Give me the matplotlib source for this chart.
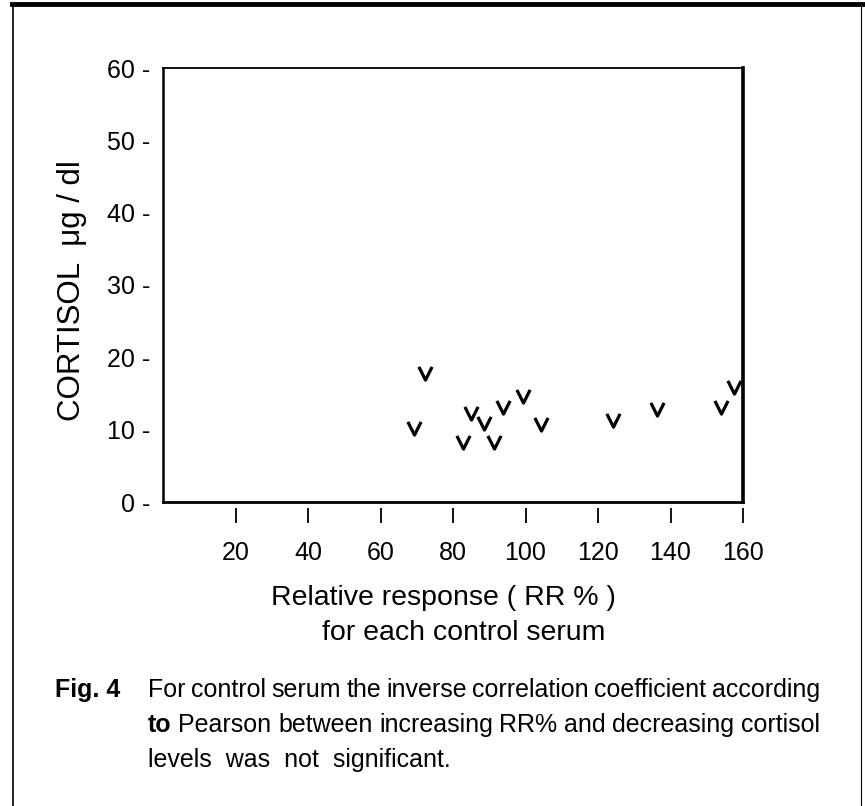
import matplotlib
matplotlib.use("Agg")
import matplotlib.pyplot as plt
from matplotlib.path import Path
from matplotlib.lines import Line2D
from matplotlib import font_manager

# relative response (RR %) and cortisol (ug/dl) for each control serum
rr = [69.2, 72.3, 82.7, 84.9, 88.6, 91.3, 93.7, 99.2, 104.2, 124.1, 136.2, 153.8, 157.5]
cortisol = [10.2, 17.8, 8.3, 12.3, 10.9, 8.3, 13.2, 14.7, 10.8, 11.4, 12.8, 13.1, 15.9]

xticks = [20, 40, 60, 80, 100, 120, 140, 160]
yticks = [0, 10, 20, 30, 40, 50, 60]
ylabels = ["0 -", "10 -", "20 -", "30 -", "40 -", "50 -", "60 -"]

caption = [
    [("For", False), ("control", False), ("serum", False), ("the", False), ("inverse", False),
     ("correlation", False), ("coefficient", False), ("according", False)],
    [("to", True), ("Pearson", False), ("between", False), ("increasing", False), ("RR%", False),
     ("and", False), ("decreasing", False), ("cortisol", False)],
]
last_line = "levels  was  not  significant."

names = {f.name for f in font_manager.fontManager.ttflist}
narrow = "Liberation Sans Narrow" if "Liberation Sans Narrow" in names else "Liberation Sans"
plt.rcParams["font.family"] = [narrow, "DejaVu Sans"]

W, H = 865, 806
fig = plt.figure(figsize=(W / 100, H / 100), dpi=100)

def fx(px):
    return px / W

def fy(py):
    return 1 - py / H

ax = fig.add_axes([fx(163), fy(502), fx(743) - fx(163), fy(68) - fy(502)])

vmark = Path([(-1, 1), (0, -1), (1, 1)], [Path.MOVETO, Path.LINETO, Path.LINETO])
ax.plot(rr, cortisol, linestyle="none", marker=vmark, markersize=9.5,
        markerfacecolor="none", markeredgecolor="black", markeredgewidth=2.3)

ax.set_xlim(0, 160)
ax.set_ylim(0, 60)
ax.set_yticks(yticks)
ax.set_yticklabels(ylabels, fontsize=18)
ax.tick_params(axis="y", length=0, pad=9)
ax.set_xticks([])
for side, lw in [("left", 1.8), ("bottom", 2.0), ("top", 1.3), ("right", 2.6)]:
    ax.spines[side].set_linewidth(lw)

# detached x ticks below the frame
sec = ax.secondary_xaxis(-0.014)
sec.set_xticks(xticks)
sec.set_xticklabels([str(t) for t in xticks], fontsize=18)
sec.spines["bottom"].set_visible(False)
sec.tick_params(axis="x", length=11, width=1.3, pad=13)

fig.text(fx(72), fy(291), "CORTISOL  \u03bcg / dl", rotation=90, fontsize=22.5,
         ha="center", va="center")
fig.text(fx(271), fy(598), "Relative response ( RR % )", fontsize=20.5, ha="left", va="center")
fig.text(fx(322), fy(633), "for each control serum", fontsize=20.5, ha="left", va="center")

# caption, justified between two edges
fig.text(fx(55), fy(690), "Fig. 4", fontsize=18, fontweight="bold", ha="left", va="center")
left, right = 148, 820
renderer = fig.canvas.get_renderer()
for i, words in enumerate(caption):
    y = 690 + i * 35
    arts = [fig.text(0, fy(y), w, fontsize=18, fontweight="bold" if b else "normal",
                     ha="left", va="center") for w, b in words]
    widths = [a.get_window_extent(renderer).width for a in arts]
    gap = (right - left - sum(widths)) / (len(arts) - 1)
    x = left
    for a, wd in zip(arts, widths):
        a.set_x(fx(x))
        x += wd + gap
fig.text(fx(left), fy(760), last_line, fontsize=18, ha="left", va="center")

# outer frame of the figure panel
fig.add_artist(Line2D([fx(12), fx(865)], [fy(4), fy(4)], color="black", lw=3.5))
fig.add_artist(Line2D([fx(13), fx(13)], [fy(4), fy(806)], color="black", lw=1.2))
fig.add_artist(Line2D([fx(861), fx(861)], [fy(4), fy(806)], color="black", lw=0.8))

fig.savefig("out.png", dpi=100)
